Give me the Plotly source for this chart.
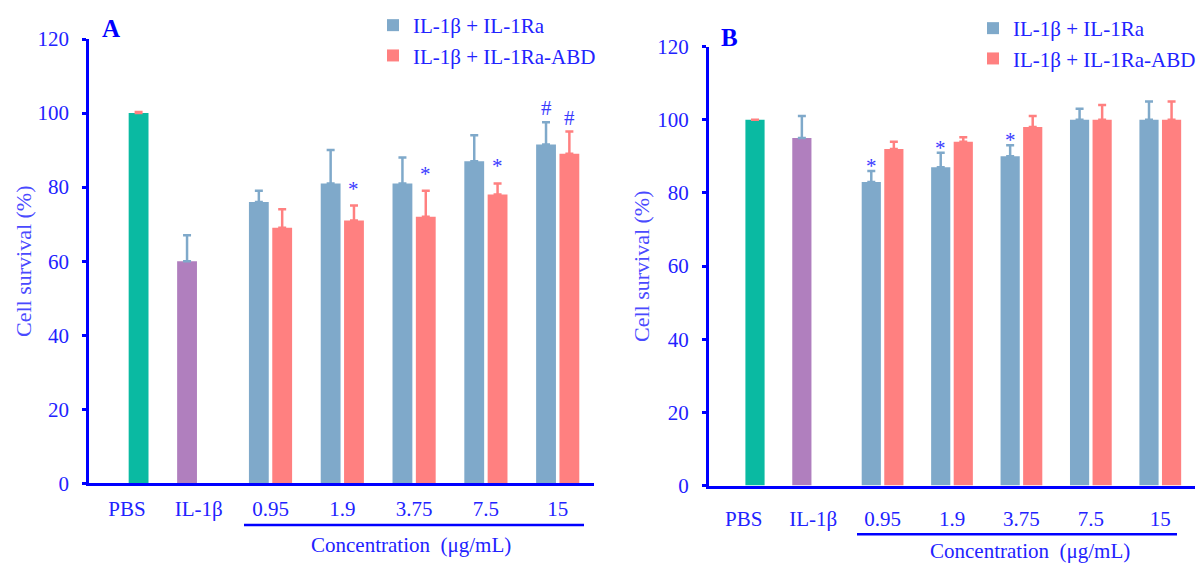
import plotly.graph_objects as go

# ---------------- data ----------------
categories = ["PBS", "IL-1β", "0.95", "1.9", "3.75", "7.5", "15"]
conc = ["0.95", "1.9", "3.75", "7.5", "15"]

# Panel A
A_pbs, A_pbs_err = [100], [0.3]
A_il1b, A_il1b_err = [60], [7]
A_ra = [76, 81, 81, 87, 91.5]
A_ra_err = [3, 9, 7, 7, 6]
A_abd = [69, 71, 72, 78, 89]
A_abd_err = [5, 4, 7, 3, 6]
A_ra_sig = ["", "", "", "", "#"]
A_abd_sig = ["", "*", "*", "*", "#"]

# Panel B
B_pbs, B_pbs_err = [100], [0]
B_il1b, B_il1b_err = [95], [6]
B_ra = [83, 87, 90, 100, 100]
B_ra_err = [3, 4, 3, 3, 5]
B_abd = [92, 94, 98, 100, 100]
B_abd_err = [2, 1.2, 3, 4, 5]
B_ra_sig = ["*", "*", "*", "", ""]
B_abd_sig = ["", "", "", "", ""]

yticks = [0, 20, 40, 60, 80, 100, 120]

# ---------------- style ----------------
W, H = 1204, 563
FONT = "Liberation Serif, Times New Roman, serif"
AXIS_BLUE = "#0000FF"
TXT_BLUE = "#2222FF"
TITLE_BLUE = "#4A4AFF"
C_PBS = "#0ABAA2"
C_IL1B = "#B07FBE"
C_RA = "#7FA9CA"
C_ABD = "#FF8080"
BARGAP = 0.35
BARGROUPGAP = 0.15


def px_x(p):
    return p / W


def px_y(p):
    return 1 - p / H


fig = go.Figure()


def err(arr, color):
    return dict(type="data", array=arr, arrayminus=[0] * len(arr), symmetric=False,
                color=color, thickness=2.5, width=4)


def add_panel(xa, ya, pbs, pbs_err, il1b, il1b_err, ra, ra_err, abd, abd_err, legend):
    # offset group "b" (left slot) must appear first
    fig.add_trace(go.Bar(x=["IL-1β"], y=il1b, offsetgroup="b", marker_color=C_IL1B,
                         marker_line_width=0, error_y=err(il1b_err, C_RA),
                         showlegend=False, xaxis=xa, yaxis=ya))
    fig.add_trace(go.Bar(x=["PBS"], y=pbs, offsetgroup="r", marker_color=C_PBS,
                         marker_line_width=0, error_y=err(pbs_err, C_ABD),
                         showlegend=False, xaxis=xa, yaxis=ya))
    fig.add_trace(go.Bar(x=conc, y=ra, offsetgroup="b", marker_color=C_RA,
                         marker_line_width=0, error_y=err(ra_err, C_RA),
                         name="IL-1β + IL-1Ra", legend=legend, xaxis=xa, yaxis=ya))
    fig.add_trace(go.Bar(x=conc, y=abd, offsetgroup="r", marker_color=C_ABD,
                         marker_line_width=0, error_y=err(abd_err, C_ABD),
                         name="IL-1β + IL-1Ra-ABD", legend=legend, xaxis=xa, yaxis=ya))


add_panel("x", "y", A_pbs, A_pbs_err, A_il1b, A_il1b_err, A_ra, A_ra_err, A_abd, A_abd_err, "legend")
add_panel("x2", "y2", B_pbs, B_pbs_err, B_il1b, B_il1b_err, B_ra, B_ra_err, B_abd, B_abd_err, "legend2")

# significance marks
slot = (1 - BARGAP) / 2
annotations = []


def add_sig(xr, yr, vals, errs, sigs, side, star_shift, hash_shift):
    for i, (v, e, s) in enumerate(zip(vals, errs, sigs)):
        if not s:
            continue
        idx = categories.index(conc[i]) + side * slot / 2
        annotations.append(dict(x=idx, y=v + e, xref=xr, yref=yr, text=s, showarrow=False,
                                yanchor="middle", xanchor="center",
                                yshift=star_shift if s == "*" else hash_shift,
                                font=dict(family=FONT, size=21, color="#3A3AFF")))


add_sig("x", "y", A_ra, A_ra_err, A_ra_sig, -1, 17, 14)
add_sig("x", "y", A_abd, A_abd_err, A_abd_sig, +1, 17, 14)
add_sig("x2", "y2", B_ra, B_ra_err, B_ra_sig, -1, 5, 14)
add_sig("x2", "y2", B_abd, B_abd_err, B_abd_sig, +1, 5, 14)

# panel letters, axis titles, concentration labels
for txt, x, y in [("A", 110.5, 28.5), ("B", 729, 38)]:
    annotations.append(dict(x=px_x(x), y=px_y(y), xref="paper", yref="paper", text=f"<b>{txt}</b>",
                            showarrow=False, xanchor="center", yanchor="middle",
                            font=dict(family=FONT, size=25, color=AXIS_BLUE)))
for x, y in [(23, 261), (641, 266)]:
    annotations.append(dict(x=px_x(x), y=px_y(y), xref="paper", yref="paper",
                            text="Cell survival (%)", textangle=-90, showarrow=False,
                            xanchor="center", yanchor="middle",
                            font=dict(family=FONT, size=22, color=TITLE_BLUE)))
for x, y in [(411, 545), (1030, 550.5)]:
    annotations.append(dict(x=px_x(x), y=px_y(y), xref="paper", yref="paper",
                            text="Concentration\u00a0 (μg/mL)", showarrow=False,
                            xanchor="center", yanchor="middle",
                            font=dict(family=FONT, size=21, color=TXT_BLUE)))

shapes = []
for x0, x1, y in [(244, 584, 525), (857, 1177, 534.3)]:
    shapes.append(dict(type="line", xref="paper", yref="paper", x0=px_x(x0), x1=px_x(x1),
                       y0=px_y(y), y1=px_y(y), line=dict(color=AXIS_BLUE, width=2.5)))

yaxis_common = dict(range=[0, 120], tickvals=yticks, showline=True, linecolor=AXIS_BLUE,
                    linewidth=3, ticks="outside", ticklen=4, tickwidth=3, tickcolor=AXIS_BLUE,
                    tickfont=dict(family=FONT, size=21, color=TXT_BLUE), showgrid=False,
                    zeroline=False, ticklabelstandoff=9)
xaxis_common = dict(type="category", categoryorder="array", categoryarray=categories,
                    showline=True, linecolor=AXIS_BLUE, linewidth=3, ticks="",
                    tickfont=dict(family=FONT, size=21, color=TXT_BLUE), showgrid=False,
                    zeroline=False)

fig.update_layout(
    width=W, height=H,
    margin=dict(l=0, r=0, t=0, b=0, autoexpand=False),
    paper_bgcolor="white", plot_bgcolor="white",
    barmode="group", bargap=BARGAP, bargroupgap=BARGROUPGAP,
    xaxis=dict(xaxis_common, domain=[px_x(89.3), px_x(593.6)], range=[-0.524, 6.5],
               anchor="y", ticklabelstandoff=4),
    yaxis=dict(yaxis_common, domain=[px_y(483.3), px_y(39)], anchor="x"),
    xaxis2=dict(xaxis_common, domain=[px_x(709), px_x(1195)], range=[-0.5, 6.5],
                anchor="y2", ticklabelstandoff=12),
    yaxis2=dict(yaxis_common, domain=[px_y(485.5), px_y(46.6)], anchor="x2"),
    legend=dict(x=px_x(373), y=px_y(5), xanchor="left", yanchor="top",
                font=dict(family=FONT, size=21, color=TXT_BLUE), bgcolor="rgba(0,0,0,0)"),
    legend2=dict(x=px_x(973), y=px_y(8), xanchor="left", yanchor="top",
                 font=dict(family=FONT, size=21, color=TXT_BLUE), bgcolor="rgba(0,0,0,0)"),
    annotations=annotations,
    shapes=shapes,
    showlegend=True,
)

fig.write_html("out.html", config={"displayModeBar": False},
               post_script="document.body.style.margin='0';")
